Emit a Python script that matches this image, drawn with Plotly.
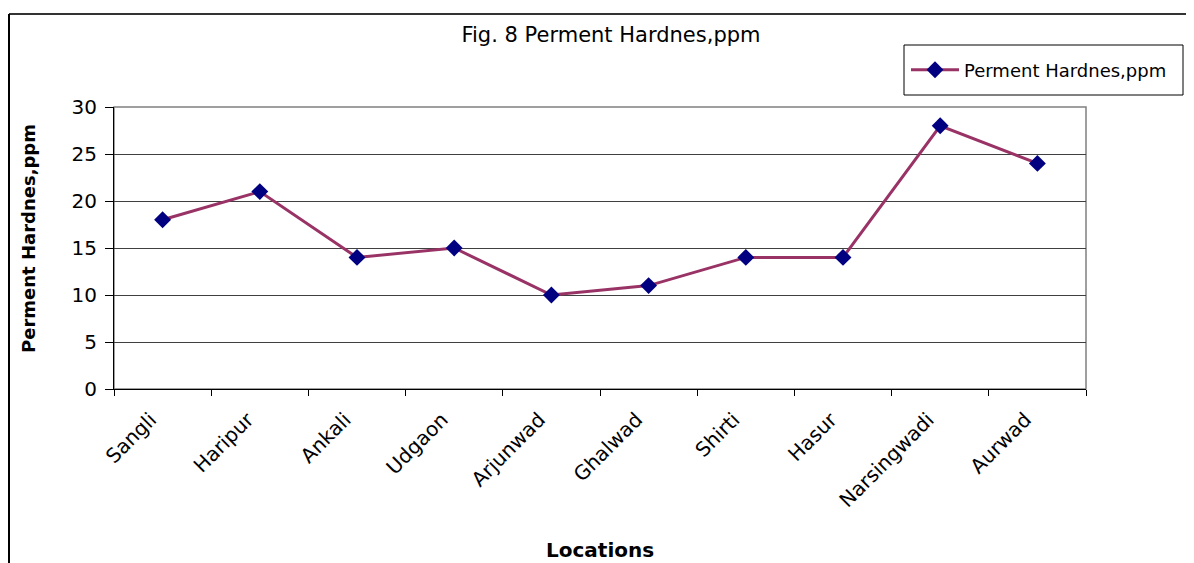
import plotly.graph_objects as go

locations = ["Sangli", "Haripur", "Ankali", "Udgaon", "Arjunwad",
             "Ghalwad", "Shirti", "Hasur", "Narsingwadi", "Aurwad"]
hardness = [18, 21, 14, 15, 10, 11, 14, 14, 28, 24]
y_ticks = [0, 5, 10, 15, 20, 25, 30]

series_name = "Perment Hardnes,ppm"
chart_title = "Fig. 8 Perment Hardnes,ppm"
x_title = "Locations"
y_title = "Perment Hardnes,ppm"

FONT = "DejaVu Sans, Arial, sans-serif"

# page body has an 8px margin; compensate so the figure lines up with the window
OFF = 8
W, H = 1194 - OFF, 563 - OFF
L, T = 114 - OFF, 107 - OFF
pw, ph = 972, 282
R = W - L - pw
B = H - T - ph


def px(x):
    """window x pixel -> paper coordinate"""
    return (x - OFF - L) / pw


def py(y):
    """window y pixel -> paper coordinate"""
    return (H - B - (y - OFF)) / ph


fig = go.Figure()
fig.add_trace(go.Scatter(
    x=locations, y=hardness, name=series_name,
    mode="lines+markers",
    line=dict(color="#993366", width=3),
    marker=dict(symbol="diamond", size=13, color="#000080",
                line=dict(width=0)),
))

fig.update_layout(
    width=W, height=H,
    margin=dict(l=L, r=R, t=T, b=B),
    paper_bgcolor="white", plot_bgcolor="white",
    font=dict(family=FONT, color="black", size=20),
    title=dict(text=chart_title, x=px(611), xref="paper", xanchor="center",
               y=1 - (35 - OFF) / H, yref="container", yanchor="middle",
               font=dict(family=FONT, size=21, color="black")),
    showlegend=True,
    legend=dict(x=px(906), y=py(70), xanchor="left", yanchor="middle",
                bgcolor="rgba(0,0,0,0)", borderwidth=0,
                itemwidth=48,
                font=dict(family=FONT, size=18, color="black")),
    xaxis=dict(
        type="category", range=[-0.5, len(locations) - 0.5],
        showgrid=False, zeroline=False,
        showline=True, linecolor="black", linewidth=1,
        ticks="outside", tickson="boundaries", ticklen=6,
        tickcolor="black", tickwidth=1,
        tickangle=-45, tickfont=dict(family=FONT, size=20, color="black"),
        ticklabelshift=-12, ticklabelstandoff=10,
    ),
    yaxis=dict(
        range=[0, 30], tickvals=y_ticks,
        showgrid=True, gridcolor="#404040", gridwidth=1,
        zeroline=False,
        showline=True, linecolor="black", linewidth=1,
        ticks="outside", ticklen=8, tickcolor="black", tickwidth=1,
        tickfont=dict(family=FONT, size=20, color="black"),
        ticklabelstandoff=4,
    ),
    annotations=[
        dict(text="<b>" + x_title + "</b>", xref="paper", yref="paper",
             x=px(600), y=py(550), xanchor="center", yanchor="middle",
             showarrow=False, font=dict(family=FONT, size=20, color="black")),
        dict(text="<b>" + y_title + "</b>", xref="paper", yref="paper",
             x=px(28), y=py(239), xanchor="center", yanchor="middle",
             textangle=-90, showarrow=False,
             font=dict(family=FONT, size=18, color="black")),
    ],
    shapes=[
        # plot area border (gray top/right)
        dict(type="rect", xref="paper", yref="paper", x0=0, x1=1, y0=0, y1=1,
             line=dict(color="#808080", width=1.5), layer="below"),
        # legend box
        dict(type="rect", xref="paper", yref="paper",
             x0=px(904), x1=px(1183), y0=py(95), y1=py(45),
             line=dict(color="black", width=1), fillcolor="rgba(0,0,0,0)"),
        # outer chart border: top and left
        dict(type="line", xref="paper", yref="paper",
             x0=px(9), x1=px(1194), y0=py(14), y1=py(14),
             line=dict(color="#333333", width=2)),
        dict(type="line", xref="paper", yref="paper",
             x0=px(9), x1=px(9), y0=py(14), y1=py(563),
             line=dict(color="black", width=2)),
    ],
)

fig.write_html("out.html")
